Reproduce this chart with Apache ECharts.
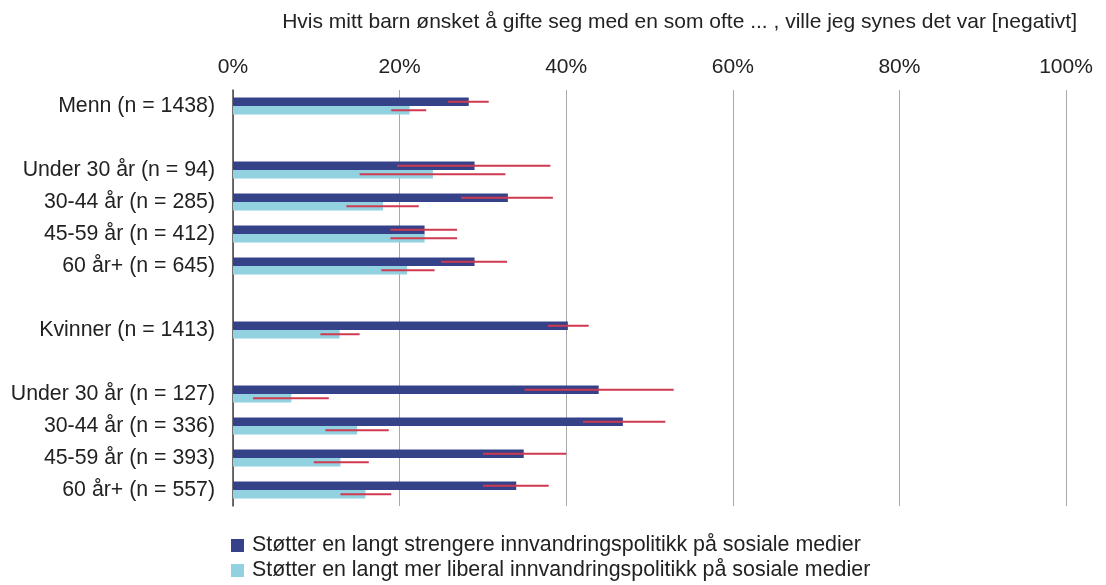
<!DOCTYPE html>
<html>
<head>
<meta charset="utf-8">
<script src="https://cdn.jsdelivr.net/npm/echarts@6/dist/echarts.min.js"></script>
<style>html,body{margin:0;padding:0;background:#fff}#c{width:1106px;height:585px}</style>
</head>
<body>
<div id="c"></div>
<script>
var categories = ['Menn (n = 1438)', '', 'Under 30 år (n = 94)', '30-44 år (n = 285)', '45-59 år (n = 412)', '60 år+ (n = 645)', '', 'Kvinner (n = 1413)', '', 'Under 30 år (n = 127)', '30-44 år (n = 336)', '45-59 år (n = 393)', '60 år+ (n = 557)'];
var strict = [28.3, null, 29.0, 33.0, 23.0, 29.0, null, 40.2, null, 43.9, 46.8, 34.9, 34.0];
var strictLow = [25.8, null, 19.7, 27.4, 18.9, 25.0, null, 37.8, null, 35.0, 42.0, 30.0, 30.0];
var strictHigh = [30.7, null, 38.1, 38.4, 26.9, 32.9, null, 42.7, null, 52.9, 51.9, 40.0, 37.9];
var liberal = [21.2, null, 24.0, 18.0, 23.0, 20.9, null, 12.8, null, 7.0, 14.9, 12.9, 15.9];
var liberalLow = [19.0, null, 15.2, 13.6, 18.9, 17.8, null, 10.5, null, 2.4, 11.1, 9.7, 12.9];
var liberalHigh = [23.2, null, 32.7, 22.3, 26.9, 24.2, null, 15.2, null, 11.5, 18.7, 16.3, 19.0];
var seriesNames = ['Støtter en langt strengere innvandringspolitikk på sosiale medier', 'Støtter en langt mer liberal innvandringspolitikk på sosiale medier'];
var titleText = 'Hvis mitt barn ønsket å gifte seg med en som ofte ... , ville jeg synes det var [negativt]';

var FONT = "'Liberation Sans', Arial, sans-serif";
var FS = 21;
var BAR_W = 8.5;
var colors = ['#35428a', '#92d1e0'];

function errData(lo, hi) {
  var out = [];
  for (var i = 0; i < lo.length; i++) {
    if (lo[i] != null) out.push([i, lo[i], hi[i]]);
  }
  return out;
}
function errSeries(lo, hi, offset) {
  return {
    type: 'custom',
    silent: true,
    z: 10,
    data: errData(lo, hi),
    encode: { y: 0, x: [1, 2] },
    renderItem: function (params, api) {
      var idx = api.value(0);
      var a = api.coord([api.value(1), idx]);
      var b = api.coord([api.value(2), idx]);
      return {
        type: 'line',
        shape: { x1: a[0], y1: a[1] + offset, x2: b[0], y2: b[1] + offset },
        style: { stroke: '#cf3a50', lineWidth: 2 }
      };
    }
  };
}
function legendFor(name, top) {
  return {
    orient: 'horizontal',
    left: 226, top: top,
    itemWidth: 13, itemHeight: 13,
    icon: 'rect',
    data: [name],
    textStyle: { fontSize: 21.4, color: '#222', fontFamily: FONT, padding: [0, 0, 0, 3] }
  };
}

var chart = echarts.init(document.getElementById('c'));
chart.setOption({
  animation: false,
  textStyle: { fontFamily: FONT },
  title: {
    text: titleText,
    right: 24, top: 7,
    textStyle: { fontSize: FS, fontWeight: 'normal', color: '#222', fontFamily: FONT }
  },
  legend: [legendFor(seriesNames[0], 530), legendFor(seriesNames[1], 555)],
  grid: { left: 233, right: 40, top: 90, bottom: 79, containLabel: false },
  xAxis: {
    type: 'value', position: 'top', min: 0, max: 100, interval: 20,
    axisLabel: { formatter: '{value}%', fontSize: FS, color: '#222', margin: 12, fontFamily: FONT },
    axisLine: { show: false }, axisTick: { show: false },
    splitLine: { lineStyle: { color: '#a8a8a8', width: 1 } }
  },
  yAxis: {
    type: 'category', inverse: true, data: categories,
    axisLabel: { fontSize: 21.3, color: '#222', margin: 18, fontFamily: FONT },
    axisLine: { show: true, lineStyle: { color: '#444', width: 1.5 } },
    axisTick: { show: false }
  },
  series: [
    { name: seriesNames[0], type: 'bar', data: strict, barWidth: BAR_W, barGap: '0%', itemStyle: { color: colors[0] } },
    { name: seriesNames[1], type: 'bar', data: liberal, barWidth: BAR_W, barGap: '0%', itemStyle: { color: colors[1] } },
    errSeries(strictLow, strictHigh, -BAR_W / 2),
    errSeries(liberalLow, liberalHigh, BAR_W / 2)
  ]
});
</script>
</body>
</html>
